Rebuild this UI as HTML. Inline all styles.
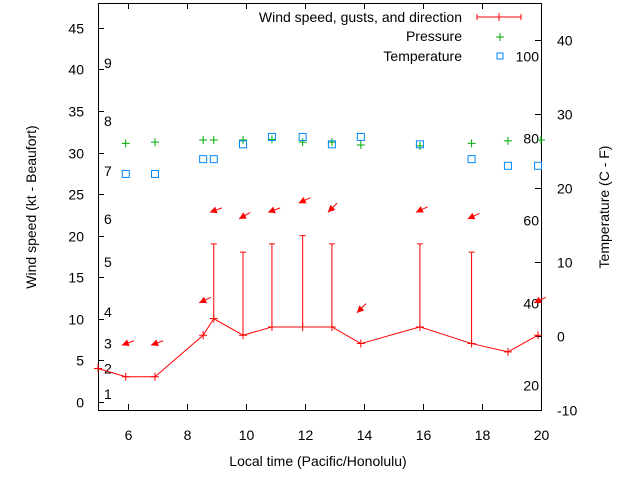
<!DOCTYPE html>
<html><head><meta charset="utf-8"><style>
html,body{margin:0;padding:0;background:#fff}
svg{display:block;font-family:"Liberation Sans",sans-serif}
</style></head><body>
<svg id="chart" width="640" height="480" xmlns="http://www.w3.org/2000/svg">
<rect x="0" y="0" width="640" height="480" fill="#fff"/>
<g id="grid"></g>
<rect x="98.5" y="3.5" width="443" height="407" fill="none" stroke="#000" stroke-width="1"/>
<text x="318" y="466" font-size="14" text-anchor="middle">Local time (Pacific/Honolulu)</text>
<text transform="translate(36,207) rotate(-90)" font-size="14" text-anchor="middle">Wind speed (kt - Beaufort)</text>
<text transform="translate(609,207) rotate(-90)" font-size="14" text-anchor="middle">Temperature (C - F)</text>
<g font-size="14">
<text x="462" y="22" text-anchor="end">Wind speed, gusts, and direction</text>
<g stroke="#f00">
<line x1="477" y1="17" x2="521" y2="17"/><line x1="477" y1="14" x2="477" y2="20"/><line x1="521" y1="14" x2="521" y2="20"/><line x1="499" y1="13" x2="499" y2="21"/></g>
<text x="462" y="41" text-anchor="end">Pressure</text>
<g stroke="#0a0"><line x1="496" y1="37" x2="504" y2="37"/><line x1="500" y1="33" x2="500" y2="41"/></g>
<text x="462" y="61" text-anchor="end">Temperature</text>
<rect x="497" y="53" width="6" height="6" fill="none" stroke="#08f"/>
</g>
<g id="marks"></g>
</svg>
<script>
const times=[5.0,5.94,6.93,8.56,8.92,9.91,10.89,11.93,12.92,13.9,15.9,17.65,18.88,19.9];
const windKt=[4,3,3,8,10,8,9,9,9,7,9,7,6,8];
const gustKt=[4,3,3,8,19,18,19,20,19,7,19,18,6,8];
const arrowTimes=[5.94,6.93,8.56,8.92,9.91,10.89,11.93,12.92,13.9,15.9,17.65,19.9];
const arrowLevel=[6.8,6.8,11.9,22.8,22.0,22.8,23.9,22.8,10.7,22.8,22.0,11.9];
const windDirDeg=[70,70,65,70,60,70,65,45,45,65,65,65];
const pTimes=[5.94,6.93,8.56,8.92,9.91,10.89,11.93,12.92,13.9,15.9,17.65,18.88,20.0];
const pressure=[31.1,31.25,31.5,31.5,31.5,31.6,31.25,31.25,30.9,30.8,31.1,31.4,31.5];
const tTimes=[5.94,6.93,8.56,8.92,9.91,10.89,11.93,12.92,13.9,15.9,17.65,18.88,19.9];
const tempC=[21.9,21.9,23.9,23.9,25.9,26.9,26.9,25.9,26.9,25.9,23.9,23.0,23.0];
const xTicks=[6,8,10,12,14,16,18,20];
const yTicks=[0,5,10,15,20,25,30,35,40,45];
const y2Ticks=[-10,0,10,20,30,40];
const beaufortLabels=["1","2","3","4","5","6","7","8","9"];
const beaufortLevel=[0.9,4.0,7.0,10.8,16.8,22.0,27.8,33.8,40.8];
const fLabels=["20","40","60","80","100"];
const fLevelC=[-6.7,4.4,15.6,26.7,37.8];

const X=t=>98+(t-5)*(443/15);
const Y=v=>410-(v+1)*(407/49);
const Y2=c=>410-(c+10)*(407/55);
const NS="http://www.w3.org/2000/svg";
const marks=document.getElementById('marks'), grid=document.getElementById('grid');
function mk(tag,attrs,parent){const e=document.createElementNS(NS,tag);for(const k in attrs)e.setAttribute(k,attrs[k]);parent.appendChild(e);return e;}

xTicks.forEach(t=>{
  const x=Math.round(X(t))+0.5;
  const l=mk('line',{x1:x,y1:410,x2:x,y2:404,stroke:'#000'},grid);
  
  
  const l2=mk('line',{x1:x,y1:3,x2:x,y2:9,stroke:'#000'},grid);
  
  
  const tx=mk('text',{x:x,y:440,'font-size':14,'text-anchor':'middle'},grid);tx.textContent=t;
  
  
});
yTicks.forEach(v=>{
  const y=Math.round(Y(v))+0.5;
  const l=mk('line',{x1:98,y1:y,x2:104,y2:y,stroke:'#000'},grid);
  
  
  const tx=mk('text',{x:84,y:y+5,'font-size':14,'text-anchor':'end'},grid);tx.textContent=v;
  
  
});
y2Ticks.forEach(c=>{
  const y=Math.round(Y2(c))+0.5;
  const l=mk('line',{x1:541,y1:y,x2:535,y2:y,stroke:'#000'},grid);
  
  
  const tx=mk('text',{x:557,y:y+5,'font-size':14},grid);tx.textContent=c;
  
  
});
beaufortLabels.forEach((s,i)=>{
  const tx=mk('text',{x:104,y:Y(beaufortLevel[i])+5,'font-size':14},grid);tx.textContent=s;
  
  
});
fLabels.forEach((s,i)=>{
  const tx=mk('text',{x:539,y:Y2(fLevelC[i])+5,'font-size':14,'text-anchor':'end'},grid);tx.textContent=s;
  
  
});

const wl=mk('polyline',{points:times.map((t,i)=>X(t)+','+Y(windKt[i])).join(' '),fill:'none',stroke:'#f00'},marks);


times.forEach((t,i)=>{
  const x=X(t),y=Y(windKt[i]),g=Y(gustKt[i]);
  const p=mk('path',{d:`M${x-4},${y}H${x+4}M${x},${y-4}V${y+4}`,stroke:'#f00'},marks);
  
  
  if(gustKt[i]>windKt[i]){
    const e=mk('path',{d:`M${x},${y}V${g}M${x-3},${g}H${x+3}`,stroke:'#f00'},marks);
    
    
  }
});
arrowTimes.forEach((t,i)=>{
  const hx=X(t)-4,hy=Y(arrowLevel[i]),a=windDirDeg[i]*Math.PI/180;
  const ux=Math.sin(a),uy=-Math.cos(a),L=13;
  const tx=hx+ux*L,ty=hy+uy*L,px=-uy,py=ux;
  const bx=hx+ux*7,by=hy+uy*7;
  const g=mk('g',{},marks);
  
  
  mk('line',{x1:hx,y1:hy,x2:tx,y2:ty,stroke:'#f00'},g);
  mk('polygon',{points:`${hx},${hy} ${bx+px*3.5},${by+py*3.5} ${bx-px*3.5},${by-py*3.5}`,fill:'#f00'},g);
});
pTimes.forEach((t,i)=>{
  const x=X(t),y=Y(pressure[i]);
  const p=mk('path',{d:`M${x-4},${y}H${x+4}M${x},${y-4}V${y+4}`,stroke:'#0a0'},marks);
  
  
});
tTimes.forEach((t,i)=>{
  const x=X(t),y=Y2(tempC[i]);
  const r=mk('rect',{x:x-3.5,y:y-3.5,width:7,height:7,fill:'none',stroke:'#08f'},marks);
  
  
});
</script>
</body></html>
